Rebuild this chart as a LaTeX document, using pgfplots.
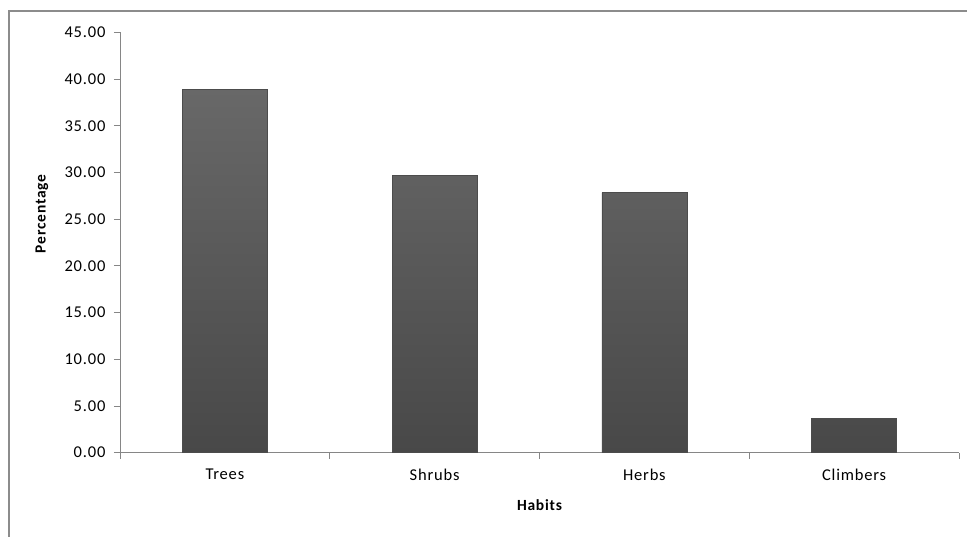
\documentclass[border=0pt]{standalone}
\usepackage{pgfplots}
\pgfplotsset{compat=1.18}
\usepackage{fontspec}
\setmainfont{Carlito}[LetterSpace=5]
\definecolor{axgray}{HTML}{868686}
\definecolor{frgray}{HTML}{8C8C8C}
\definecolor{bartop}{HTML}{686868}
\definecolor{barbot}{HTML}{484848}
\begin{document}
\begin{tikzpicture}
\path[use as bounding box] (-120pt,-84.3pt) rectangle (847pt,452.7pt);
\draw[frgray,line width=1.2pt] (-111pt,-84.3pt) -- (-111pt,441.7pt) -- (847pt,441.7pt);
\begin{axis}[
  at={(0pt,0pt)}, anchor=south west,
  scale only axis, width=839pt, height=420.4pt,
  xmin=-0.5, xmax=3.5, ymin=0, ymax=45,
  axis lines=left,
  axis line style={draw=axgray, line width=0.8pt, -},
  xtick={0,1,2,3},
  xticklabels={Trees,Shrubs,Herbs,Climbers},
  minor xtick={-0.5,0.5,1.5,2.5,3.5},
  ytick={0,5,...,45},
  tick align=outside,
  major x tick style={draw=none},
  minor x tick style={draw=axgray, line width=0.8pt},
  minor tick length=6pt,
  y tick style={draw=axgray, line width=0.8pt},
  major tick length=6pt,
  /pgf/number format/assume math mode=true,
  yticklabel={\pgfmathprintnumber[fixed,fixed zerofill,precision=2]{\tick}},
  tick label style={font=\fontsize{16.5}{18}\selectfont, text=black},
  xticklabel style={yshift=-7pt},
  yticklabel style={xshift=-5pt},
  xlabel={Habits}, ylabel={Percentage},
  label style={font=\fontsize{15.5}{18}\selectfont\bfseries},
  xlabel style={at={(axis description cs:0.5,0)}, anchor=center, yshift=-52pt},
  ylabel style={at={(axis description cs:0,0.568)}, anchor=center, yshift=78pt},
  clip=false,
]
\addplot[ybar, bar width=85pt, draw=black!70, line width=0.5pt, top color=bartop, bottom color=barbot]
  coordinates {(0,38.9) (1,29.7) (2,27.85) (3,3.7)};
\end{axis}
\end{tikzpicture}
\end{document}
